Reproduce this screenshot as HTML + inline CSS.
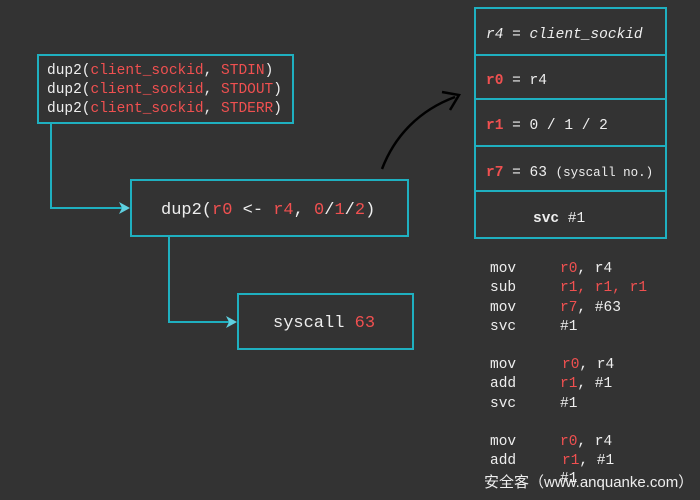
<!DOCTYPE html>
<html><head><style>
body{margin:0;background:#333333;}
svg{display:block}
text{font-family:"Liberation Mono",monospace;fill:#eeeeee;}
.r{fill:#f05050}
</style></head><body>
<svg width="700" height="500" viewBox="0 0 700 500">
<rect width="700" height="500" fill="#333333"/>
<g fill="none" stroke="#1fb0c0" stroke-width="2">
<rect x="38" y="55" width="255" height="68"/>
<rect x="131" y="180" width="277" height="56"/>
<rect x="238" y="294" width="175" height="55"/>
<rect x="475" y="8" width="191" height="230"/>
<line x1="475" y1="55" x2="666" y2="55"/>
<line x1="475" y1="99" x2="666" y2="99"/>
<line x1="475" y1="146" x2="666" y2="146"/>
<line x1="475" y1="191" x2="666" y2="191"/>
<polyline points="51,123 51,208 122,208"/>
<polyline points="169,236 169,322 229,322"/>
</g>
<polygon points="130,208 119,202 122,208 119,214" fill="#5fd0e0"/>
<polygon points="237,322 226,316 229,322 226,328" fill="#5fd0e0"/>
<path d="M382,169 C395,135 420,110 455,97" fill="none" stroke="#000" stroke-width="2.5"/>
<polyline points="442,92 459,95 450,110" fill="none" stroke="#000" stroke-width="2.5"/>
<g font-size="14.5">
<text x="47" y="74">dup2(<tspan class="r">client_sockid</tspan>, <tspan class="r">STDIN</tspan>)</text>
<text x="47" y="93">dup2(<tspan class="r">client_sockid</tspan>, <tspan class="r">STDOUT</tspan>)</text>
<text x="47" y="112">dup2(<tspan class="r">client_sockid</tspan>, <tspan class="r">STDERR</tspan>)</text>
</g>
<text x="161" y="214" font-size="17">dup2(<tspan class="r">r0</tspan> &lt;- <tspan class="r">r4</tspan>, <tspan class="r">0</tspan>/<tspan class="r">1</tspan>/<tspan class="r">2</tspan>)</text>
<text x="273" y="327" font-size="17">syscall <tspan class="r">63</tspan></text>
<g font-size="14.5">
<text x="486" y="38" font-style="italic" fill="#dddddd">r4 = client_sockid</text>
<text x="486" y="84"><tspan class="r" font-weight="bold">r0</tspan> = r4</text>
<text x="486" y="129"><tspan class="r" font-weight="bold">r1</tspan> = 0 / 1 / 2</text>
<text x="486" y="176"><tspan class="r" font-weight="bold">r7</tspan> = 63 <tspan font-size="12.5">(syscall no.)</tspan></text>
<text x="533" y="222"><tspan font-weight="bold">svc</tspan> #1</text>
</g>
<g font-size="14.5" fill="#dddddd">
<text x="490" y="272">mov</text><text x="560" y="272"><tspan class="r">r0</tspan>, r4</text>
<text x="490" y="291">sub</text><text x="560" y="291" class="r">r1, r1, r1</text>
<text x="490" y="311">mov</text><text x="560" y="311"><tspan class="r">r7</tspan>, #63</text>
<text x="490" y="330">svc</text><text x="560" y="330">#1</text>
<text x="490" y="368">mov</text><text x="562" y="368"><tspan class="r">r0</tspan>, r4</text>
<text x="490" y="387">add</text><text x="560" y="387"><tspan class="r">r1</tspan>, #1</text>
<text x="490" y="407">svc</text><text x="560" y="407">#1</text>
<text x="490" y="445">mov</text><text x="560" y="445"><tspan class="r">r0</tspan>, r4</text>
<text x="490" y="464">add</text><text x="562" y="464"><tspan class="r">r1</tspan>, #1</text>
<text x="560" y="482">#1</text>
</g>
<text x="484" y="487" font-size="15" style="font-family:'Liberation Sans','Noto Sans CJK SC',sans-serif" fill="#f0f0f0">安全客（www.anquanke.com）</text>
</svg>
</body></html>
